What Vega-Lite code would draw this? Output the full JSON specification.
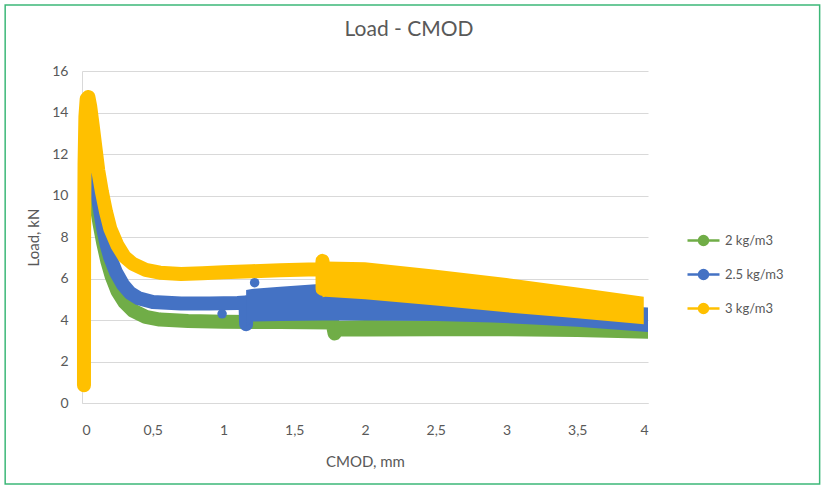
{
  "$schema": "https://vega.github.io/schema/vega-lite/v6.json",
  "autosize": {"type": "none"},
  "width": 566,
  "height": 332,
  "padding": {"left": 82, "top": 71, "right": 179, "bottom": 85},
  "background": "white",
  "title": {"text": "Load - CMOD", "font": "Lato", "fontSize": 21, "fontWeight": "normal", "color": "#595959", "anchor": "middle", "frame": "group", "dx": 44, "offset": 0, "dy": 36},
  "config": {
    "view": {"stroke": null},
    "font": "Lato",
    "axis": {"labelFont": "Lato", "titleFont": "Lato", "labelColor": "#595959", "titleColor": "#595959", "titleFontWeight": "normal", "labelFontSize": 14, "titleFontSize": 15, "ticks": false, "domainColor": "#d9d9d9", "gridColor": "#d9d9d9"}
  },
  "datasets": {
    "curves": [
      {"series": "2 kg/m3", "order": 1, "cmod": 0.07, "load": 10.8},
      {"series": "2 kg/m3", "order": 2, "cmod": 0.1, "load": 9.6},
      {"series": "2 kg/m3", "order": 3, "cmod": 0.125, "load": 8.6},
      {"series": "2 kg/m3", "order": 4, "cmod": 0.15, "load": 7.7},
      {"series": "2 kg/m3", "order": 5, "cmod": 0.18, "load": 6.8},
      {"series": "2 kg/m3", "order": 6, "cmod": 0.21, "load": 6.1},
      {"series": "2 kg/m3", "order": 7, "cmod": 0.25, "load": 5.4},
      {"series": "2 kg/m3", "order": 8, "cmod": 0.3, "load": 4.85},
      {"series": "2 kg/m3", "order": 9, "cmod": 0.36, "load": 4.45},
      {"series": "2 kg/m3", "order": 10, "cmod": 0.45, "load": 4.15},
      {"series": "2 kg/m3", "order": 11, "cmod": 0.55, "load": 4.02},
      {"series": "2 kg/m3", "order": 12, "cmod": 0.75, "load": 3.95},
      {"series": "2 kg/m3", "order": 13, "cmod": 1.0, "load": 3.92},
      {"series": "2 kg/m3", "order": 14, "cmod": 1.4, "load": 3.9},
      {"series": "2 kg/m3", "order": 15, "cmod": 1.77, "load": 3.88},
      {"series": "2 kg/m3", "order": 16, "cmod": 1.785, "load": 3.35},
      {"series": "2.5 kg/m3", "order": 1, "cmod": 0.068, "load": 11.3},
      {"series": "2.5 kg/m3", "order": 2, "cmod": 0.085, "load": 10.9},
      {"series": "2.5 kg/m3", "order": 3, "cmod": 0.1, "load": 10.4},
      {"series": "2.5 kg/m3", "order": 4, "cmod": 0.115, "load": 9.8},
      {"series": "2.5 kg/m3", "order": 5, "cmod": 0.13, "load": 9.2},
      {"series": "2.5 kg/m3", "order": 6, "cmod": 0.15, "load": 8.4},
      {"series": "2.5 kg/m3", "order": 7, "cmod": 0.175, "load": 7.6},
      {"series": "2.5 kg/m3", "order": 8, "cmod": 0.2, "load": 7.0},
      {"series": "2.5 kg/m3", "order": 9, "cmod": 0.24, "load": 6.3},
      {"series": "2.5 kg/m3", "order": 10, "cmod": 0.29, "load": 5.7},
      {"series": "2.5 kg/m3", "order": 11, "cmod": 0.34, "load": 5.3},
      {"series": "2.5 kg/m3", "order": 12, "cmod": 0.4, "load": 5.05},
      {"series": "2.5 kg/m3", "order": 13, "cmod": 0.5, "load": 4.87},
      {"series": "2.5 kg/m3", "order": 14, "cmod": 0.7, "load": 4.8},
      {"series": "2.5 kg/m3", "order": 15, "cmod": 0.9, "load": 4.8},
      {"series": "2.5 kg/m3", "order": 16, "cmod": 1.1, "load": 4.82},
      {"series": "2.5 kg/m3", "order": 17, "cmod": 1.155, "load": 4.85},
      {"series": "2.5 kg/m3", "order": 18, "cmod": 1.16, "load": 3.8},
      {"series": "3 kg/m3", "order": 1, "cmod": 0.014, "load": 0.85},
      {"series": "3 kg/m3", "order": 2, "cmod": 0.014, "load": 4},
      {"series": "3 kg/m3", "order": 3, "cmod": 0.015, "load": 8},
      {"series": "3 kg/m3", "order": 4, "cmod": 0.018, "load": 11.5},
      {"series": "3 kg/m3", "order": 5, "cmod": 0.024, "load": 13.8},
      {"series": "3 kg/m3", "order": 6, "cmod": 0.033, "load": 14.65},
      {"series": "3 kg/m3", "order": 7, "cmod": 0.045, "load": 14.75},
      {"series": "3 kg/m3", "order": 8, "cmod": 0.058, "load": 14.3},
      {"series": "3 kg/m3", "order": 9, "cmod": 0.075, "load": 13.4},
      {"series": "3 kg/m3", "order": 10, "cmod": 0.095, "load": 12.3},
      {"series": "3 kg/m3", "order": 11, "cmod": 0.115, "load": 11.2},
      {"series": "3 kg/m3", "order": 12, "cmod": 0.14, "load": 10.2},
      {"series": "3 kg/m3", "order": 13, "cmod": 0.17, "load": 9.2},
      {"series": "3 kg/m3", "order": 14, "cmod": 0.2, "load": 8.4},
      {"series": "3 kg/m3", "order": 15, "cmod": 0.25, "load": 7.6},
      {"series": "3 kg/m3", "order": 16, "cmod": 0.3, "load": 7.05},
      {"series": "3 kg/m3", "order": 17, "cmod": 0.36, "load": 6.7},
      {"series": "3 kg/m3", "order": 18, "cmod": 0.45, "load": 6.42},
      {"series": "3 kg/m3", "order": 19, "cmod": 0.55, "load": 6.28},
      {"series": "3 kg/m3", "order": 20, "cmod": 0.7, "load": 6.22},
      {"series": "3 kg/m3", "order": 21, "cmod": 0.85, "load": 6.25},
      {"series": "3 kg/m3", "order": 22, "cmod": 1.0, "load": 6.3},
      {"series": "3 kg/m3", "order": 23, "cmod": 1.2, "load": 6.35},
      {"series": "3 kg/m3", "order": 24, "cmod": 1.4, "load": 6.4},
      {"series": "3 kg/m3", "order": 25, "cmod": 1.6, "load": 6.43},
      {"series": "3 kg/m3", "order": 26, "cmod": 1.695, "load": 6.45},
      {"series": "3 kg/m3", "order": 27, "cmod": 1.7, "load": 6.85},
      {"series": "3 kg/m3", "order": 28, "cmod": 1.7, "load": 5.5}
    ],
    "bands": [
      {"series": "2 kg/m3", "cmod": 1.785, "low": 3.2, "high": 3.95},
      {"series": "2 kg/m3", "cmod": 2.0, "low": 3.2, "high": 4.0},
      {"series": "2 kg/m3", "cmod": 2.5, "low": 3.22, "high": 3.98},
      {"series": "2 kg/m3", "cmod": 3.0, "low": 3.22, "high": 3.92},
      {"series": "2 kg/m3", "cmod": 3.5, "low": 3.18, "high": 3.87},
      {"series": "2 kg/m3", "cmod": 4.0, "low": 3.1, "high": 3.85},
      {"series": "2.5 kg/m3", "cmod": 1.16, "low": 3.65, "high": 5.45},
      {"series": "2.5 kg/m3", "cmod": 1.2, "low": 3.93, "high": 5.5},
      {"series": "2.5 kg/m3", "cmod": 1.4, "low": 3.95, "high": 5.6},
      {"series": "2.5 kg/m3", "cmod": 1.7, "low": 3.98, "high": 5.75},
      {"series": "2.5 kg/m3", "cmod": 2.0, "low": 3.98, "high": 5.55},
      {"series": "2.5 kg/m3", "cmod": 2.5, "low": 3.95, "high": 5.2},
      {"series": "2.5 kg/m3", "cmod": 2.9, "low": 3.88, "high": 4.95},
      {"series": "2.5 kg/m3", "cmod": 3.5, "low": 3.68, "high": 4.75},
      {"series": "2.5 kg/m3", "cmod": 4.0, "low": 3.42, "high": 4.6},
      {"series": "3 kg/m3", "cmod": 1.7, "low": 5.1, "high": 6.85},
      {"series": "3 kg/m3", "cmod": 1.72, "low": 5.12, "high": 6.82},
      {"series": "3 kg/m3", "cmod": 2.0, "low": 5.0, "high": 6.78},
      {"series": "3 kg/m3", "cmod": 2.5, "low": 4.7, "high": 6.42},
      {"series": "3 kg/m3", "cmod": 3.0, "low": 4.37, "high": 6.02},
      {"series": "3 kg/m3", "cmod": 3.5, "low": 4.08, "high": 5.57},
      {"series": "3 kg/m3", "cmod": 3.97, "low": 3.8, "high": 5.12}
    ],
    "dots": [
      {"series": "2.5 kg/m3", "cmod": 1.22, "load": 5.8},
      {"series": "2.5 kg/m3", "cmod": 0.99, "load": 4.3}
    ]
  },
  "layer": [
    {
      "data": {"values": [{}]},
      "mark": {"type": "rect", "fill": null, "stroke": "#3cb878", "strokeWidth": 1.5, "clip": false},
      "encoding": {
        "x": {"datum": -0.543, "type": "quantitative", "scale": {"domain": [0, 4], "nice": false, "zero": false}, "axis": {"values": [0, 0.5, 1, 1.5, 2, 2.5, 3, 3.5, 4], "format": "~g", "labelExpr": "replace(datum.label, '.', ',')", "grid": false, "labelPadding": 20, "title": "CMOD, mm", "titlePadding": 17}},
        "x2": {"datum": 5.213},
        "y": {"datum": 19.18, "type": "quantitative", "scale": {"domain": [0, 16], "nice": false, "zero": false}, "axis": {"values": [0, 2, 4, 6, 8, 10, 12, 14, 16], "format": "d", "grid": true, "labelPadding": 14, "title": "Load, kN", "titlePadding": 10}},
        "y2": {"datum": -3.9}
      }
    },
    {
      "data": {"name": "curves"},
      "transform": [{"filter": "datum.series === '2 kg/m3'"}],
      "mark": {"type": "line", "strokeWidth": 14, "strokeCap": "round", "strokeJoin": "round"},
      "encoding": {
        "x": {"field": "cmod", "type": "quantitative", "scale": {"domain": [0, 4], "nice": false, "zero": false}},
        "y": {"field": "load", "type": "quantitative", "scale": {"domain": [0, 16], "nice": false, "zero": false}},
        "order": {"field": "order", "type": "quantitative"},
        "color": {"field": "series", "type": "nominal", "scale": {"domain": ["2 kg/m3", "2.5 kg/m3", "3 kg/m3"], "range": ["#70AD47", "#4472C4", "#FFC000"]},
          "legend": {"orient": "none", "legendX": 604, "legendY": 152, "title": null, "padding": 0, "symbolType": "M-1,0H1M0.28,0A0.28,0.28,0,1,1,-0.28,0A0.28,0.28,0,1,1,0.28,0", "symbolSize": 1024, "symbolStrokeWidth": 2.5, "labelFont": "Lato", "labelFontSize": 13, "labelColor": "#595959", "labelOffset": 4, "rowPadding": 7,
            "encode": {"symbols": {"update": {"fill": {"scale": "color", "field": "value"}, "stroke": {"scale": "color", "field": "value"}, "strokeWidth": {"value": 2.5}}}}}}
      }
    },
    {
      "data": {"name": "bands"},
      "transform": [{"filter": "datum.series === '2 kg/m3'"}],
      "mark": {"type": "area"},
      "encoding": {
        "x": {"field": "cmod", "type": "quantitative"},
        "y": {"field": "low", "type": "quantitative"},
        "y2": {"field": "high"},
        "color": {"field": "series", "type": "nominal", "legend": null}
      }
    },
    {
      "data": {"name": "curves"},
      "transform": [{"filter": "datum.series === '2.5 kg/m3'"}],
      "mark": {"type": "line", "strokeWidth": 14, "strokeCap": "round", "strokeJoin": "round"},
      "encoding": {
        "x": {"field": "cmod", "type": "quantitative"},
        "y": {"field": "load", "type": "quantitative"},
        "order": {"field": "order", "type": "quantitative"},
        "color": {"field": "series", "type": "nominal"}
      }
    },
    {
      "data": {"name": "bands"},
      "transform": [{"filter": "datum.series === '2.5 kg/m3'"}],
      "mark": {"type": "area"},
      "encoding": {
        "x": {"field": "cmod", "type": "quantitative"},
        "y": {"field": "low", "type": "quantitative"},
        "y2": {"field": "high"},
        "color": {"field": "series", "type": "nominal", "legend": null}
      }
    },
    {
      "data": {"name": "dots"},
      "mark": {"type": "circle", "size": 90, "opacity": 1},
      "encoding": {
        "x": {"field": "cmod", "type": "quantitative"},
        "y": {"field": "load", "type": "quantitative"},
        "color": {"field": "series", "type": "nominal", "legend": null}
      }
    },
    {
      "data": {"name": "curves"},
      "transform": [{"filter": "datum.series === '3 kg/m3'"}],
      "mark": {"type": "line", "strokeWidth": 14, "strokeCap": "round", "strokeJoin": "round"},
      "encoding": {
        "x": {"field": "cmod", "type": "quantitative"},
        "y": {"field": "load", "type": "quantitative"},
        "order": {"field": "order", "type": "quantitative"},
        "color": {"field": "series", "type": "nominal"}
      }
    },
    {
      "data": {"name": "bands"},
      "transform": [{"filter": "datum.series === '3 kg/m3'"}],
      "mark": {"type": "area"},
      "encoding": {
        "x": {"field": "cmod", "type": "quantitative"},
        "y": {"field": "low", "type": "quantitative"},
        "y2": {"field": "high"},
        "color": {"field": "series", "type": "nominal", "legend": null}
      }
    }
  ]
}
